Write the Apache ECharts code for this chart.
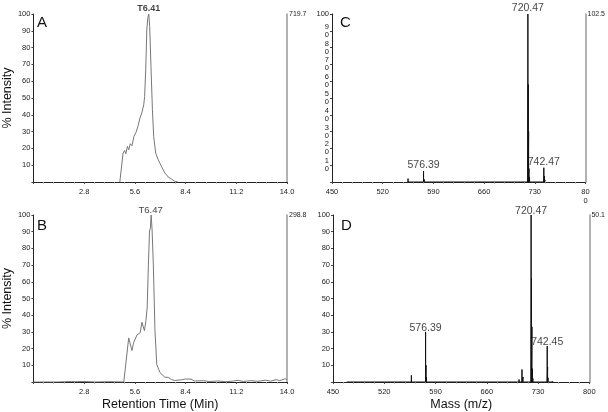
<!DOCTYPE html>
<html><head><meta charset="utf-8">
<script src="https://cdn.jsdelivr.net/npm/echarts@6/dist/echarts.min.js"></script>
<style>html,body{margin:0;padding:0;background:#fff}#c{width:608px;height:412px}</style>
</head><body><div id="c"></div>
<script>
// ---- Data ----
const panelLetters = ['A', 'B', 'C', 'D'];
const rightScaleLabels = ['719.7', '298.8', '102.5', '50.1'];
const timeTicks = [0, 2.8, 5.6, 8.4, 11.2, 14.0];
const massTicks = [450, 520, 590, 660, 730, 800];

// Chromatogram A (time, %intensity)
const chromA_t = [4.77, 4.95, 5.04, 5.10, 5.19, 5.26, 5.35, 5.44, 5.55, 5.66, 5.77, 5.88, 5.98, 6.09, 6.14, 6.20, 6.26, 6.31, 6.37, 6.42, 6.49, 6.57, 6.64, 6.75, 6.89, 7.07, 7.26, 7.44, 7.62, 7.80, 7.98];
const chromA_i = [0, 17.2, 18.8, 16.8, 21.2, 19.2, 22.8, 21.6, 27.1, 29.5, 33.1, 38, 41, 45.9, 50.9, 66.7, 90.5, 97.4, 100, 92.5, 68.7, 43, 27.1, 17.2, 13.3, 9.3, 5.3, 3, 1.8, 0.4, 0];
const peakA = {t: 6.37, i: 100, label: 'T6.41'};

// Chromatogram B
const chromB_t = [0.0, 1.3, 1.35, 1.4, 2.1, 2.2, 2.3, 2.8, 3.4, 3.45, 3.5, 4.2, 4.99, 5.26, 5.35, 5.44, 5.53, 5.63, 5.72, 5.81, 5.90, 5.99, 6.08, 6.13, 6.21, 6.28, 6.35, 6.41, 6.46, 6.50, 6.55, 6.62, 6.71, 6.81, 6.90, 6.99, 7.08, 7.26, 7.44, 7.62, 7.80, 8.17, 8.40, 8.70, 8.90, 9.4, 9.7, 10.2, 10.6, 11.0, 11.3, 11.6, 12.0, 12.4, 12.8, 13.1, 13.4, 13.6, 13.9, 14.0];
const chromB_i = [0, 0, 0.6, 0, 0.3, 1.0, 0.2, 0.3, 0, 0.5, 0, 0.2, 0, 26.4, 25.8, 18.8, 23.5, 22.6, 28.2, 27.3, 29.6, 35.8, 36.7, 30.7, 36.7, 44.3, 70.6, 90.4, 92.3, 100, 91.5, 70.6, 31, 10.4, 9.4, 5.6, 4.7, 2.8, 2.8, 1.5, 0.9, 1.3, 1.8, 1.7, 0.6, 0.8, 0.3, 0.6, 0.2, 0.5, 1.0, 0.3, 0.8, 0.4, 1.1, 0.5, 1.4, 0.8, 2.0, 1.2];
const peakB = {t: 6.47, i: 100, label: 'T6.47'};

// Spectrum C (m/z, %intensity)
const specC_mz = [555.0, 576.39, 577.4, 640.0, 700.0, 720.47, 721.0, 721.5, 722.0, 722.8, 742.47, 743.4, 745.0];
const specC_i  = [2.0, 6.5, 1.5, 0.5, 0.6, 100, 58, 30, 8, 3, 8.5, 3.5, 1.0];
const labelsC_mz = [576.39, 720.47, 742.47];
const labelsC_i  = [6.5, 100, 8.5];

// Spectrum D
const specD_mz = [469.0, 520.0, 540.0, 557.0, 576.39, 577.0, 577.6, 704.0, 708.0, 709.5, 720.47, 721.0, 721.6, 722.3, 723.0, 742.45, 743.0, 743.6, 750.0];
const specD_i  = [1.0, 0.4, 0.6, 4.0, 30, 10, 3, 1.5, 7.5, 3, 100, 62, 33, 8, 2, 21.5, 9, 2.5, 0.5];
const labelsD_mz = [576.39, 720.47, 742.45];
const labelsD_i  = [30, 100, 21.5];

// ---- Build ----
const FONT = 'Liberation Sans';
const grids = [
  {left: 30, top: 14, width: 257, height: 168},
  {left: 30, top: 215, width: 257, height: 177},
  {left: 332, top: 14, width: 259, height: 168},
  {left: 333, top: 215, width: 258, height: 177}
];
function sticks(mz, it) {
  const out = [];
  for (let k = 0; k < mz.length; k++) { out.push([mz[k], 0], [mz[k], it[k]], [mz[k], 0]); }
  return out;
}
function zip(a, b) { return a.map((v, k) => [v, b[k]]); }

const xAxes = [], yAxes = [];
const axisLineStyle = {color: '#222', width: 1};
for (let g = 0; g < 4; g++) {
  const isTime = g < 2;
  const isC = g === 2;
  xAxes.push({
    type: 'value', gridIndex: g,
    min: isTime ? timeTicks[0] : massTicks[0],
    max: isTime ? timeTicks[timeTicks.length - 1] : massTicks[massTicks.length - 1],
    interval: isTime ? 2.8 : 70,
    splitLine: {show: false},
    axisLine: {lineStyle: axisLineStyle},
    axisTick: {length: 2, lineStyle: {color: '#444'}},
    minorTick: {show: true, splitNumber: 5, length: 1.5, lineStyle: {color: '#999'}},
    axisLabel: {
      fontFamily: FONT, fontSize: 7.5, color: '#222', margin: 5, lineHeight: 9,
      formatter: v => {
        if (isTime) return v === 0 ? '' : v.toFixed(1);
        const s = String(Math.round(v));
        if (isC && Math.round(v) === 800) return '80\n0';
        return s;
      }
    },
    name: g === 1 ? 'Retention Time (Min)' : (g === 3 ? 'Mass (m/z)' : ''),
    nameLocation: 'middle', nameGap: 16,
    nameTextStyle: {fontFamily: FONT, fontSize: 12.5, color: '#111'}
  });
  yAxes.push({
    type: 'value', gridIndex: g, min: 0, max: 100, interval: 10,
    splitLine: {show: false},
    axisLine: {show: true, lineStyle: axisLineStyle},
    axisTick: {show: true, length: 2, lineStyle: {color: '#444'}},
    axisLabel: {
      fontFamily: FONT, fontSize: 7.5, color: '#222', margin: 3, lineHeight: 8,
      formatter: v => {
        if (v === 0) return '';
        if (isC && v < 100) return String(v / 10) + '\n0';
        return String(v);
      }
    },
    name: isTime ? '% Intensity' : '',
    nameLocation: 'middle', nameRotate: 90, nameGap: 17,
    nameTextStyle: {fontFamily: FONT, fontSize: 12.5, color: '#111'}
  });
  yAxes.push({
    type: 'value', gridIndex: g, min: 0, max: 100, interval: 100, position: 'right',
    splitLine: {show: false},
    axisLine: {show: true, lineStyle: {color: '#999', width: 1.5}},
    axisTick: {show: false},
    axisLabel: {
      fontFamily: FONT, fontSize: 7, color: '#222', margin: 2,
      formatter: v => v === 100 ? rightScaleLabels[g] : ''
    }
  });
}

const series = [];
function labelSeries(g, pts, names, bold, size, dist) {
  series.push({
    type: 'scatter', xAxisIndex: g, yAxisIndex: 2 * g, symbolSize: 0,
    data: pts.map((p, k) => ({value: p, name: names[k]})),
    label: {show: true, position: 'top', distance: dist, formatter: p => p.name,
      fontFamily: FONT, fontSize: size, color: '#111', fontWeight: bold ? 'bold' : 'normal'},
    clip: false, silent: true, z: 5
  });
}
// Chromatograms
series.push({type: 'line', xAxisIndex: 0, yAxisIndex: 0, data: zip(chromA_t, chromA_i), symbol: 'none',
  lineStyle: {color: '#777', width: 1}, animation: false});
series.push({type: 'line', xAxisIndex: 1, yAxisIndex: 2, data: zip(chromB_t, chromB_i), symbol: 'none',
  lineStyle: {color: '#777', width: 1}, animation: false});
labelSeries(0, [[peakA.t, peakA.i]], [peakA.label], true, 9, 1);
labelSeries(1, [[peakB.t, peakB.i]], [peakB.label], false, 9.5, 0);
// Spectra
series.push({type: 'line', xAxisIndex: 2, yAxisIndex: 4, data: sticks(specC_mz, specC_i), symbol: 'none',
  lineStyle: {color: '#111', width: 1}, animation: false});
series.push({type: 'line', xAxisIndex: 3, yAxisIndex: 6, data: sticks(specD_mz, specD_i), symbol: 'none',
  lineStyle: {color: '#111', width: 1}, animation: false});
labelSeries(2, zip(labelsC_mz, labelsC_i), labelsC_mz.map(v => v.toFixed(2)), false, 10.5, 0);
labelSeries(3, zip(labelsD_mz, labelsD_i), labelsD_mz.map(v => v.toFixed(2)), false, 10.5, -2);

const titles = [
  {text: panelLetters[0], left: 37, top: 15},
  {text: panelLetters[1], left: 37, top: 218},
  {text: panelLetters[2], left: 340, top: 15},
  {text: panelLetters[3], left: 341, top: 218}
].map(t => Object.assign(t, {padding: 0, textStyle: {fontFamily: FONT, fontSize: 15, fontWeight: 'normal', color: '#111'}}));

const chart = echarts.init(document.getElementById('c'), null, {renderer: 'canvas'});
chart.setOption({
  animation: false,
  backgroundColor: '#fff',
  title: titles,
  grid: grids,
  xAxis: xAxes,
  yAxis: yAxes,
  series: series
});
</script></body></html>
